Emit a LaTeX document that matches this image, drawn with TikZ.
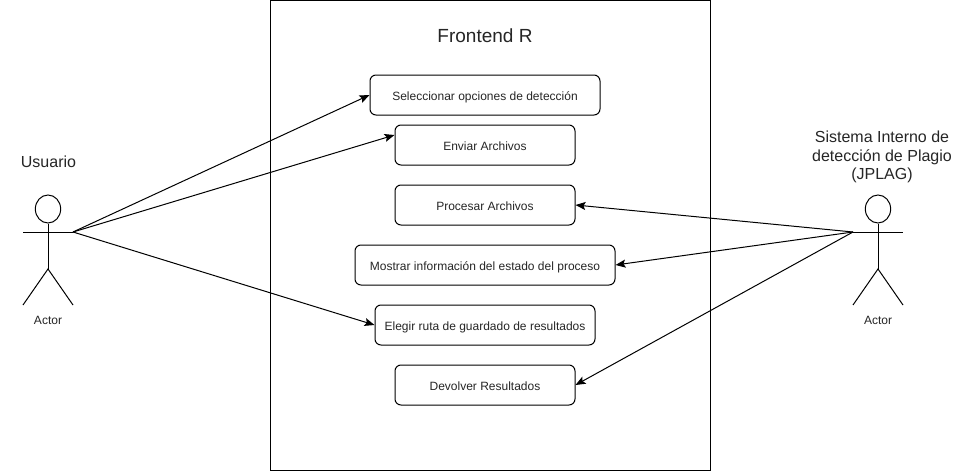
\documentclass[tikz,border=0pt]{standalone}
\usepackage{fontspec}
\setmainfont{Liberation Sans}
\usetikzlibrary{arrows.meta,shapes.geometric}
\tikzset{
  usecase/.style={draw=black,rounded corners=4.5pt,fill=white,line width=0.75pt,minimum height=30pt,inner sep=0pt,font=\fontsize{9pt}{11pt}\selectfont,text=black!85,text height=7.5pt,text depth=0pt},
  flow/.style={draw=black,line width=0.75pt,-{Stealth[length=7.5pt,width=6pt,inset=1.5pt]}},
  stick/.style={draw=black,line width=0.75pt},
  head/.style={draw=black,line width=0.75pt,ellipse,minimum width=19pt,minimum height=21pt,inner sep=0pt},
  caption/.style={font=\fontsize{12pt}{13.8pt}\selectfont,align=center,text=black!85,inner sep=0pt},
  actorlabel/.style={font=\fontsize{9pt}{11pt}\selectfont,text=black!85,inner sep=0pt}
}
\begin{document}
\begin{tikzpicture}[x=0.75pt,y=-0.75pt]
\useasboundingbox (0,0) rectangle (972,471);
\fill[white] (0,0) rectangle (972,471);
\node[draw=black,line width=0.75pt,minimum width=330pt,minimum height=352.5pt,inner sep=0pt,anchor=north west] (frame) at (270,0) {};
\node[font=\fontsize{14.25pt}{16pt}\selectfont,text=black!85,inner sep=0pt] (title) at (485,36) {Frontend R};

\node[usecase,minimum width=172.5pt] (sel) at (485,95) {Seleccionar opciones de detección};
\node[usecase,minimum width=135pt] (env) at (485,145) {Enviar Archivos};
\node[usecase,minimum width=135pt] (pro) at (485,205) {Procesar Archivos};
\node[usecase,minimum width=195pt] (mos) at (485,265) {Mostrar información del estado del proceso};
\node[usecase,minimum width=165pt] (ele) at (485,325) {Elegir ruta de guardado de resultados};
\node[usecase,minimum width=135pt] (dev) at (485,385) {Devolver Resultados};

% left actor
\node[head] (headL) at (48,209) {};
\coordinate (hipL) at (48,269);
\coordinate (handLa) at (23,232);
\coordinate (handL) at (73,232);
\coordinate (footLa) at (23,305);
\coordinate (footLb) at (73,305);
\draw[stick] (headL.south) -- (hipL);
\draw[stick] (handLa) -- (handL);
\draw[stick] (footLa) -- (hipL) -- (footLb);
\node[actorlabel] (actL) at (48,320) {Actor};
\node[caption] (usr) at (48.5,161.5) {Usuario};

% right actor
\node[head] (headR) at (878,209) {};
\coordinate (hipR) at (878,269);
\coordinate (handR) at (853,232);
\coordinate (handRb) at (903,232);
\coordinate (footRa) at (853,305);
\coordinate (footRb) at (903,305);
\draw[stick] (headR.south) -- (hipR);
\draw[stick] (handR) -- (handRb);
\draw[stick] (footRa) -- (hipR) -- (footRb);
\node[actorlabel] (actR) at (878,320) {Actor};
\node[caption] (sys) at (882,157) {Sistema Interno de\\detección de Plagio\\(JPLAG)};

% connectors
\draw[flow] (handL) -- (sel.west);
\draw[flow] (handL) -- (env.west |- 0,135);
\draw[flow] (handL) -- (ele.west);
\draw[flow] (handR) -- (pro.east);
\draw[flow] (handR) -- (mos.east);
\draw[flow] (handR) -- (dev.east);
\end{tikzpicture}
\end{document}
